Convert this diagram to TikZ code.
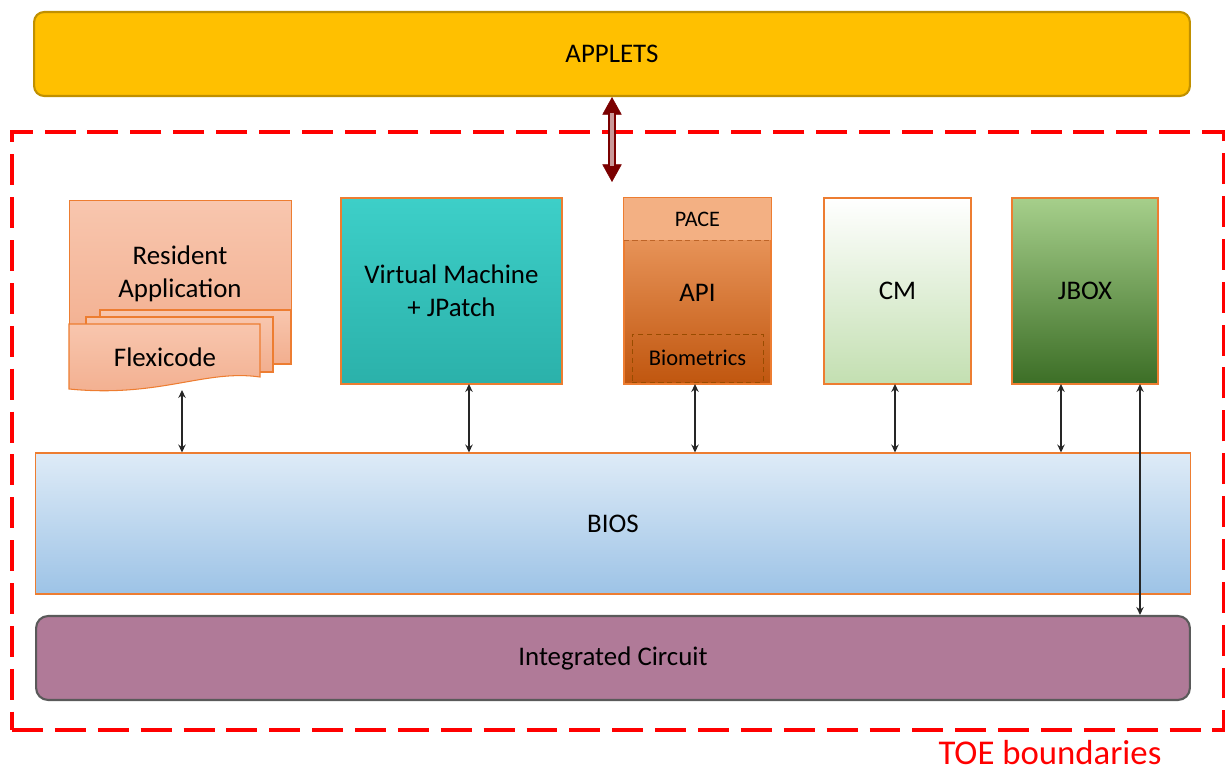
\documentclass[tikz,border=0pt]{standalone}
\usepackage{fontspec}
\setmainfont{Carlito}
\usetikzlibrary{arrows.meta}

\definecolor{appletfill}{HTML}{FFC000}
\definecolor{appletline}{HTML}{C09000}
\definecolor{boxline}{HTML}{ED7D31}
\definecolor{darkarrow}{HTML}{7B0000}
\definecolor{icfill}{HTML}{B07A98}
\definecolor{icline}{HTML}{5A5A5A}
\definecolor{restop}{HTML}{F8C6AE}
\definecolor{resbot}{HTML}{F2AE8E}
\definecolor{vmtop}{HTML}{3DCFC8}
\definecolor{vmbot}{HTML}{2BB1AA}
\definecolor{pacefill}{HTML}{F3B083}
\definecolor{apitop}{HTML}{F2A46C}
\definecolor{apibot}{HTML}{C0560F}
\definecolor{cmbot}{HTML}{C3DFB1}
\definecolor{jboxtop}{HTML}{A6CF8B}
\definecolor{jboxbot}{HTML}{3C6E26}
\definecolor{biostop}{HTML}{DEEBF7}
\definecolor{biosbot}{HTML}{9DC3E6}

\tikzstyle{blocktext} = [font=\fontsize{15.3}{18.5}\selectfont,align=center]
\tikzstyle{layer} = [blocktext,draw=boxline,line width=0.6pt,rectangle]
\tikzstyle{page} = [draw=boxline,line width=0.6pt,top color=restop,bottom color=resbot]
\tikzstyle{link} = [{Stealth[length=4.5pt,width=4.2pt]}-{Stealth[length=4.5pt,width=4.2pt]},line width=0.7pt,black!85]

\begin{document}
\begin{tikzpicture}[x=0.02cm,y=-0.02cm]
	\useasboundingbox (0,0) rectangle (1225,774);
	% applets on top
	\node (applets) [blocktext,draw=appletline,fill=appletfill,line width=1.2pt,rounded corners=0.2cm,minimum width=23.12cm,minimum height=1.68cm] at (612,54) {APPLETS};
	% toe boundary
	\node (toe) [draw=red,line width=2.3pt,dash pattern=on 17.6pt off 6.8pt,minimum width=24.24cm,minimum height=11.96cm] at (618,431) {};
	\node (toelabel) [text=red,inner sep=0pt,font=\fontsize{19.8}{24}\selectfont] at (1050,753) {TOE boundaries};
	% resident application with flexicode pages
	\node (res) [layer,top color=restop,bottom color=resbot,minimum width=4.44cm,minimum height=3.04cm,anchor=north west,inner sep=0pt] at (69,200) {};
	\node at (180,274) [blocktext] {Resident\\Application};
	\draw [page] (100,310) rectangle (291,364);
	\draw [page] (86,317) rectangle (273,372);
	\draw [page] (69,324) -- (260,324) -- (260,377) .. controls (205,369) and (160,398) .. (69,389) -- cycle;
	\node (flex) [blocktext] at (165,357) {Flexicode};
	% middle blocks
	\node (vm) [layer,top color=vmtop,bottom color=vmbot,minimum width=4.42cm,minimum height=3.72cm] at (451.5,291) {Virtual Machine\\+ JPatch};
	\node (api) [layer,top color=apitop,bottom color=apibot,minimum width=2.94cm,minimum height=3.72cm] at (697.5,291) {};
	\node (pace) [font=\fontsize{12.6}{15}\selectfont,fill=pacefill,minimum width=2.94cm,minimum height=0.84cm] at (697.5,219) {PACE};
	\draw [boxline!80!black,densely dashed,line width=0.5pt] (pace.south west) -- (pace.south east);
	\node at (697.5,293) [blocktext] {API};
	\node (bio) [draw=orange!60!black,densely dashed,line width=0.5pt,font=\fontsize{12.8}{15}\selectfont,minimum width=2.62cm,minimum height=0.96cm] at (697.5,358) {Biometrics};
	\draw [boxline,line width=0.6pt] (api.north west) rectangle (api.south east);
	\node (cm) [layer,top color=white,bottom color=cmbot,minimum width=2.94cm,minimum height=3.72cm] at (897.5,291) {CM};
	\node (jbox) [layer,top color=jboxtop,bottom color=jboxbot,minimum width=2.92cm,minimum height=3.72cm] at (1085,291) {JBOX};
	% lower layers
	\node (bios) [layer,top color=biostop,bottom color=biosbot,minimum width=23.12cm,minimum height=2.82cm] at (613,523.5) {BIOS};
	\node (ic) [blocktext,draw=icline,fill=icfill,line width=1.2pt,rounded corners=0.24cm,minimum width=23.08cm,minimum height=1.68cm] at (613,658) {Integrated Circuit};
	% connections
	\coordinate (flexfoot) at (182,390);
	\coordinate (vmfoot) at (469,384);
	\coordinate (apifoot) at (695,384);
	\coordinate (cmfoot) at (895,384);
	\coordinate (jboxfoot) at (1061,384);
	\coordinate (jboxtap) at (1140,384);
	\coordinate (toeentry) at (612,182);
	\draw [link] (flexfoot) -- (flexfoot |- bios.north);
	\draw [link] (vmfoot) -- (vmfoot |- bios.north);
	\draw [link] (apifoot) -- (apifoot |- bios.north);
	\draw [link] (cmfoot) -- (cmfoot |- bios.north);
	\draw [link] (jboxfoot) -- (jboxfoot |- bios.north);
	\draw [link] (jboxtap) -- (jboxtap |- ic.north);
	\draw [darkarrow,line width=0.3pt,{Triangle[length=10pt,width=11pt]}-{Triangle[length=10pt,width=11pt]}] (applets.south) -- (toeentry);
	\draw [darkarrow,line width=1pt,double=darkarrow!40!white,double distance=2.2pt,shorten <=9pt,shorten >=9pt] (applets.south) -- (toeentry);
\end{tikzpicture}
\end{document}
